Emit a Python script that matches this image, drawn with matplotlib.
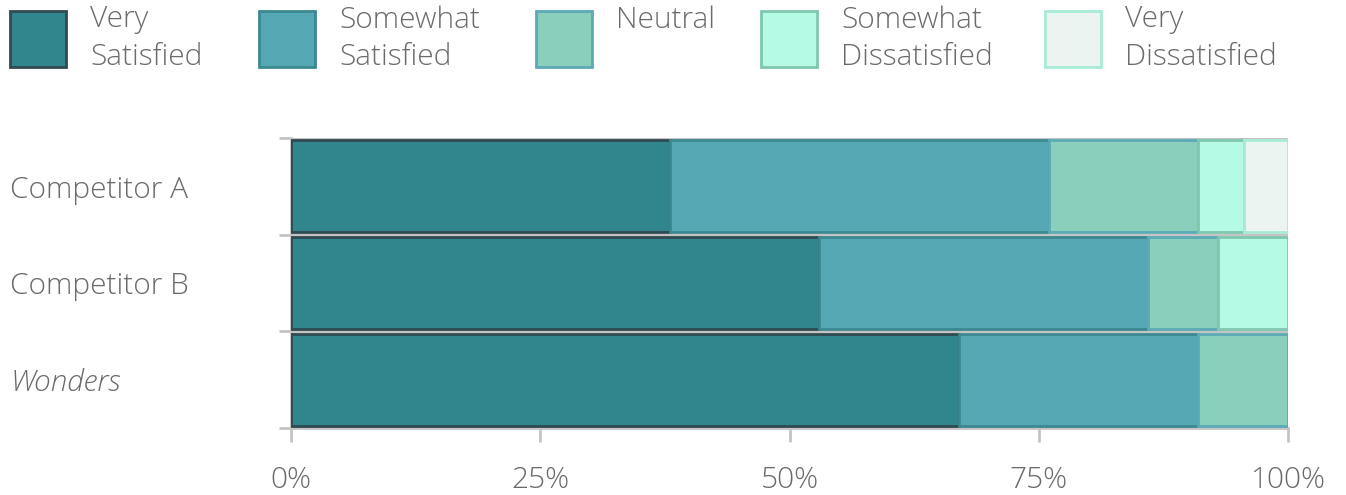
"""
Customer satisfaction stacked bar chart.
"""
import matplotlib.pyplot as plt
from matplotlib.patches import Rectangle
from matplotlib.ticker import FixedLocator, PercentFormatter

# --------------------------- Data --------------------------- #
companies = ["Competitor A", "Competitor B", "Wonders"]
levels = ["Very\nSatisfied", "Somewhat\nSatisfied", "Neutral",
          "Somewhat\nDissatisfied", "Very\nDissatisfied"]
very_sat = [38, 53, 67]
somewhat_sat = [38, 33, 24]
neutral = [15, 7, 9]
somewhat_dis = [4.6, 7, 0]
very_dis = [4.4, 0, 0]
x_ticks = [0, 25, 50, 75, 100]

# --------------------------- Styles --------------------------- #
fills = ["#31868e", "#56a9b4", "#8acfbb", "#b4fae4", "#ebf4f1"]
edges = ["#2f4a50", "#3b8890", "#5aabb5", "#7fc8af", "#a8ecd6"]
GRAY = "#c4c4c4"
TXT = "#6b6b6b"
FONT = "Open Sans"
FS = 21.5

plt.rcParams["font.family"] = [FONT, "DejaVu Sans"]
plt.rcParams["font.weight"] = "light"


def draw_bars(ax):
    """Stack the segments left to right."""
    series = [very_sat, somewhat_sat, neutral, somewhat_dis, very_dis]
    left = [0.0] * len(companies)
    for vals, fc, ec in zip(series, fills, edges):
        ypos = [i for i, v in enumerate(vals) if v > 0]
        ax.barh(ypos, [vals[i] for i in ypos], left=[left[i] for i in ypos],
                height=0.95, color=fc, edgecolor=ec, linewidth=2, zorder=3)
        left = [l + v for l, v in zip(left, vals)]


def draw_legend(fig):
    """Hand-made legend above the axes."""
    xs = [10, 259, 536, 761, 1045]
    W, H = 1346, 495
    for x, lab, fc, ec in zip(xs, levels, fills, edges):
        fig.patches.append(Rectangle((x / W, 1 - 67 / H), 56 / W, 56 / H,
                                     transform=fig.transFigure, facecolor=fc,
                                     edgecolor=ec, linewidth=2))
        fig.text((x + 80) / W, 1 - 5 / H, lab, ha="left", va="top",
                 fontsize=FS, color=TXT, linespacing=1.35)


fig = plt.figure(figsize=(13.46, 4.95), dpi=100)
ax = fig.add_axes([291 / 1346, 1 - 428 / 495, 997 / 1346, 290 / 495])
draw_bars(ax)

ax.set_xlim(0, 100)
ax.set_ylim(2.5, -0.5)
ax.xaxis.set_major_locator(FixedLocator(x_ticks))
ax.xaxis.set_major_formatter(PercentFormatter(decimals=0))
ax.set_yticks(range(len(companies)))
ax.set_yticklabels(companies)
ax.yaxis.set_minor_locator(FixedLocator([-0.5, 0.5, 1.5, 2.5]))
ax.tick_params(axis="y", which="major", length=0, pad=202, labelsize=FS,
               labelcolor=TXT)
for lab in ax.get_yticklabels():
    lab.set_horizontalalignment("left")
    if lab.get_text() == "Wonders":
        lab.set_style("italic")
ax.tick_params(axis="y", which="minor", length=9, width=2, color=GRAY)
ax.tick_params(axis="x", length=10, width=2, color=GRAY, pad=17,
               labelsize=FS, labelcolor=TXT)
ax.grid(axis="y", which="minor", color=GRAY, linewidth=2.5, zorder=1)
for side in ["top", "right"]:
    ax.spines[side].set_visible(False)
for side in ["left", "bottom"]:
    ax.spines[side].set_color(GRAY)
    ax.spines[side].set_linewidth(2)

draw_legend(fig)
fig.savefig("out.png", dpi=100)
